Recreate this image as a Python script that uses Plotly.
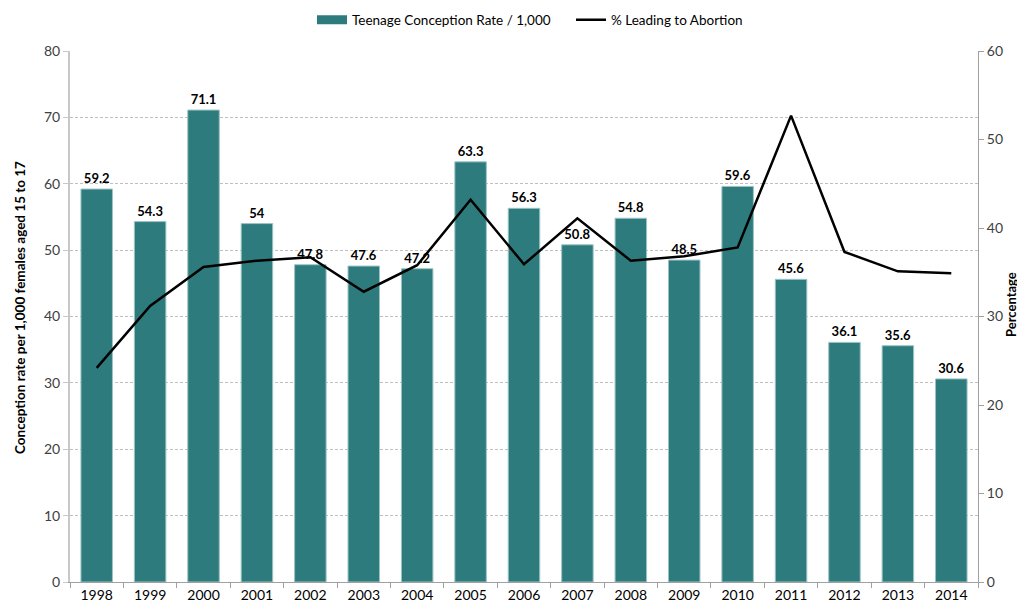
import plotly.graph_objects as go

years = ["1998","1999","2000","2001","2002","2003","2004","2005","2006","2007","2008","2009","2010","2011","2012","2013","2014"]
rate = [59.2,54.3,71.1,54,47.8,47.6,47.2,63.3,56.3,50.8,54.8,48.5,59.6,45.6,36.1,35.6,30.6]
abortion_pct = [24.2,31.2,35.6,36.3,36.7,32.8,35.8,43.2,35.9,41.1,36.3,36.8,37.8,52.7,37.3,35.1,34.9]
rate_labels = [("%g" % v) for v in rate]

FONT = "Lato, 'Open Sans', sans-serif"
TEAL = "#2E7B7E"

fig = go.Figure()
fig.add_trace(go.Bar(
    x=years, y=rate, name="Teenage Conception Rate / 1,000", showlegend=False,
    marker=dict(color=TEAL, line=dict(color="#9CC4C5", width=1)),
    text=rate_labels, textposition="outside", cliponaxis=False,
    textfont=dict(family=FONT, size=13, color="#000000", weight="bold"),
    width=0.59,
))
# legend entry for the bars (wide rectangular swatch)
fig.add_trace(go.Scatter(
    x=[None], y=[None], name="Teenage Conception Rate / 1,000",
    mode="lines", line=dict(color=TEAL, width=9),
))
fig.add_trace(go.Scatter(
    x=years, y=abortion_pct, name="% Leading to Abortion", yaxis="y2",
    mode="lines", line=dict(color="#000000", width=2.5),
))

fig.update_layout(
    width=1025, height=607,
    margin=dict(l=62, r=55, t=43, b=33, autoexpand=False),
    paper_bgcolor="white", plot_bgcolor="white",
    font=dict(family=FONT, size=13, color="#404040"),
    showlegend=True,
    legend=dict(orientation="h", x=304/1025, xref="container", xanchor="left",
                y=1 - 12/607, yref="container", yanchor="middle",
                font=dict(family=FONT, size=13.5, color="#000000"),
                traceorder="normal", entrywidthmode="pixels", entrywidth=214,
                itemwidth=30),
    xaxis=dict(showline=True, linecolor="#A0A0A0", linewidth=1, ticks="outside",
               tickcolor="#A0A0A0", ticklen=5, tickson="boundaries",
               tickfont=dict(family=FONT, size=14, color="#000000"), showgrid=False,
               automargin=False),
    yaxis=dict(range=[0, 80], dtick=10, showline=True, linecolor="#C8C8C8", linewidth=2,
               ticks="outside", tickcolor="#C8C8C8", ticklen=5,
               showgrid=True, gridcolor="#BFBFBF", griddash="3px,2px", gridwidth=1,
               zeroline=False, automargin=False,
               tickfont=dict(family=FONT, size=14, color="#404040")),
    yaxis2=dict(range=[0, 60], dtick=10, overlaying="y", side="right",
                showline=True, linecolor="#A0A0A0", linewidth=1,
                ticks="outside", tickcolor="#A0A0A0", ticklen=5, showgrid=False,
                zeroline=False, automargin=False,
                tickfont=dict(family=FONT, size=14, color="#404040")),
    annotations=[
        dict(text="Conception rate per 1,000 females aged 15 to 17", textangle=-90,
             xref="paper", yref="paper", x=(12 - 62) / 908, y=(574 - 300) / 531,
             xanchor="center", yanchor="middle", showarrow=False,
             font=dict(family=FONT, size=13.5, color="#000000", weight="bold")),
        dict(text="Percentage", textangle=-90,
             xref="paper", yref="paper", x=(1003 - 62) / 908, y=(574 - 297) / 531,
             xanchor="center", yanchor="middle", showarrow=False,
             font=dict(family=FONT, size=13, color="#000000", weight="bold")),
    ],
)

fig.write_html("out.html")
